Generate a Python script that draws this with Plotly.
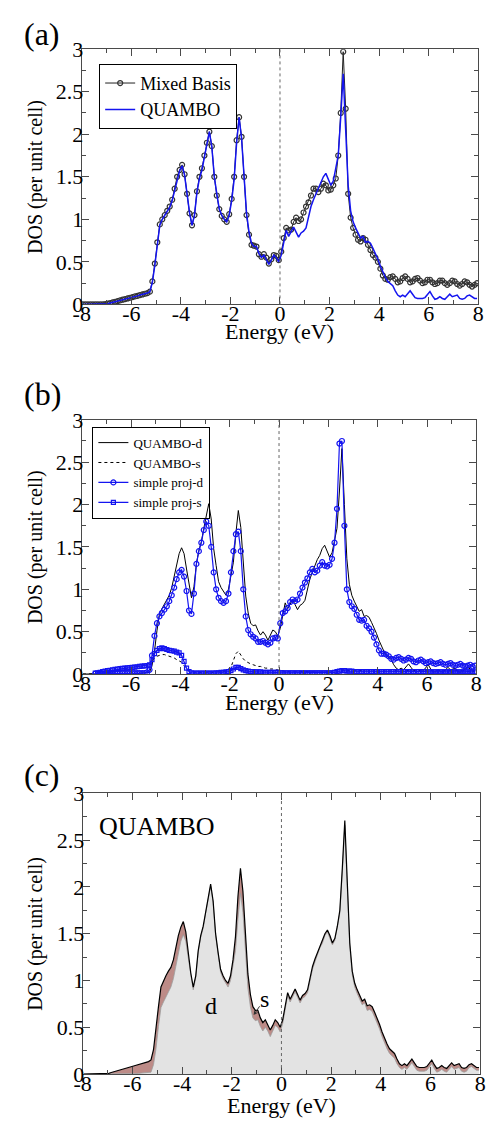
import numpy as np
import plotly.graph_objects as go

# Energy grid (eV), bin centres from -7.95 to 7.95
energy = np.round(np.arange(-7.95, 8.0, 0.1), 2)

# Total DOS from the mixed-basis calculation
mixed_basis = [
    0, 0, 0, 0, 0, 0, 0, 0, 0, 0.005,
    0.008, 0.016, 0.023, 0.031, 0.039, 0.047, 0.055, 0.062, 0.07, 0.078,
    0.086, 0.094, 0.10, 0.11, 0.117, 0.125, 0.133, 0.15, 0.27, 0.48,
    0.73, 0.94, 1.0, 1.05, 1.1, 1.15, 1.23, 1.36, 1.5, 1.58,
    1.64, 1.53, 1.3, 1.07, 0.93, 1.05, 1.33, 1.5, 1.6, 1.75,
    1.9, 2.03, 1.86, 1.5, 1.28, 1.12, 1.04, 1.0, 0.97, 1.06,
    1.24, 1.5, 1.93, 2.2, 1.97, 1.5, 1.05, 0.82, 0.7, 0.69,
    0.68, 0.59, 0.56, 0.59, 0.55, 0.48, 0.53, 0.58, 0.57, 0.52,
    0.62, 0.78, 0.9, 0.87, 0.88, 0.97, 1.02, 0.98, 1.0, 1.08,
    1.15, 1.2, 1.28, 1.36, 1.36, 1.32, 1.36, 1.42, 1.4, 1.34,
    1.35, 1.4, 1.48, 1.75, 2.25, 2.97, 2.3, 1.3, 1.02, 0.9,
    0.82, 0.76, 0.74, 0.78, 0.76, 0.7, 0.64, 0.58, 0.55, 0.5,
    0.42, 0.34, 0.3, 0.29, 0.32, 0.33, 0.3, 0.26, 0.27, 0.31,
    0.33, 0.3, 0.26, 0.27, 0.3, 0.31, 0.28, 0.25, 0.26, 0.29,
    0.29, 0.26, 0.24, 0.25, 0.28, 0.28, 0.25, 0.23, 0.25, 0.28,
    0.27, 0.24, 0.22, 0.24, 0.27, 0.26, 0.23, 0.21, 0.23, 0.25,
]

# Total QUAMBO DOS
quambo_total = [
    0, 0, 0, 0, 0, 0, 0, 0, 0, 0.005,
    0.008, 0.016, 0.023, 0.031, 0.039, 0.047, 0.055, 0.062, 0.07, 0.078,
    0.086, 0.094, 0.10, 0.11, 0.117, 0.125, 0.133, 0.15, 0.26, 0.46,
    0.72, 0.93, 1.0, 1.05, 1.1, 1.14, 1.22, 1.35, 1.48, 1.57,
    1.63, 1.52, 1.3, 1.08, 0.93, 1.05, 1.32, 1.48, 1.58, 1.74,
    1.88, 2.03, 1.85, 1.5, 1.3, 1.12, 1.05, 1.0, 0.97, 1.05,
    1.22, 1.47, 1.9, 2.2, 1.95, 1.5, 1.07, 0.85, 0.72, 0.68,
    0.68, 0.6, 0.55, 0.58, 0.53, 0.47, 0.52, 0.58, 0.55, 0.5,
    0.58, 0.75, 0.87, 0.8, 0.85, 0.91, 0.85, 0.79, 0.84, 0.86,
    0.9, 1.02, 1.15, 1.23, 1.3, 1.37, 1.42, 1.5, 1.54, 1.48,
    1.4, 1.45, 1.58, 1.75, 2.2, 2.71, 2.05, 1.4, 1.1, 0.97,
    0.9, 0.84, 0.78, 0.8, 0.73, 0.74, 0.72, 0.66, 0.6, 0.53,
    0.45, 0.38, 0.32, 0.27, 0.25, 0.22, 0.16, 0.11, 0.09, 0.11,
    0.09, 0.12, 0.16, 0.12, 0.08, 0.07, 0.07, 0.07, 0.08, 0.12,
    0.15, 0.1, 0.06, 0.07, 0.09, 0.07, 0.06, 0.09, 0.12, 0.09,
    0.1, 0.11, 0.07, 0.06, 0.07, 0.1, 0.11, 0.09, 0.07, 0.07,
]

# s-projected QUAMBO DOS
quambo_s = [
    0, 0, 0, 0, 0, 0, 0, 0, 0, 0.005,
    0.008, 0.016, 0.023, 0.031, 0.039, 0.047, 0.055, 0.062, 0.07, 0.078,
    0.085, 0.09, 0.095, 0.1, 0.105, 0.11, 0.12, 0.13, 0.16, 0.19,
    0.21, 0.22, 0.23, 0.23, 0.22, 0.21, 0.2, 0.19, 0.17, 0.15,
    0.14, 0.1, 0.06, 0.04, 0.03, 0.02, 0.02, 0.02, 0.02, 0.02,
    0.02, 0.02, 0.02, 0.02, 0.02, 0.03, 0.03, 0.03, 0.04, 0.05,
    0.08, 0.15, 0.24, 0.27, 0.22, 0.18, 0.15, 0.13, 0.12, 0.11,
    0.1, 0.09, 0.09, 0.08, 0.07, 0.07, 0.06, 0.06, 0.05, 0.05,
    0.04, 0.04, 0.03, 0.03, 0.03, 0.03, 0.03, 0.03, 0.03, 0.03,
    0.03, 0.03, 0.03, 0.03, 0.02, 0.02, 0.02, 0.02, 0.02, 0.02,
    0.02, 0.02, 0.02, 0.03, 0.04, 0.05, 0.05, 0.04, 0.04, 0.04,
    0.04, 0.04, 0.04, 0.04, 0.05, 0.05, 0.05, 0.05, 0.05, 0.05,
    0.05, 0.05, 0.05, 0.05, 0.05, 0.05, 0.05, 0.04, 0.04, 0.04,
    0.04, 0.04, 0.04, 0.04, 0.04, 0.04, 0.04, 0.04, 0.04, 0.04,
    0.04, 0.04, 0.04, 0.04, 0.04, 0.04, 0.04, 0.04, 0.04, 0.04,
    0.04, 0.04, 0.04, 0.04, 0.04, 0.03, 0.03, 0.03, 0.03, 0.03,
]

# Simple projection onto d and s orbitals
simple_proj_d = [
    None, None, None, None, None, 0.005, 0.005, 0.005, 0.005, 0.005,
    0.01, 0.01, 0.01, 0.01, 0.01, 0.01, 0.01, 0.01, 0.01, 0.01,
    0.01, 0.01, 0.01, 0.01, 0.01, 0.01, 0.02, 0.05, 0.22, 0.45,
    0.6, 0.68, 0.72, 0.76, 0.8, 0.86, 0.93, 1.02, 1.12, 1.2,
    1.23, 1.15, 0.98, 0.75, 0.71, 0.95, 1.3, 1.45, 1.55, 1.7,
    1.8, 1.75, 1.5, 1.2, 1.0, 0.9, 0.86, 0.84, 0.86, 0.95,
    1.2, 1.45, 1.65, 1.68, 1.45, 1.0, 0.68, 0.52, 0.47, 0.44,
    0.42, 0.38, 0.38, 0.39, 0.37, 0.35, 0.37, 0.42, 0.43, 0.42,
    0.6, 0.72, 0.74, 0.78, 0.85, 0.88, 0.86, 0.88, 0.95, 1.02,
    1.08, 1.13, 1.2, 1.24, 1.2, 1.22, 1.28, 1.32, 1.28, 1.27,
    1.29, 1.36, 1.55, 1.95, 2.72, 2.75, 1.75, 1.0, 0.85, 0.8,
    0.77, 0.7, 0.64, 0.63, 0.64, 0.57, 0.54, 0.5, 0.43, 0.35,
    0.28, 0.24, 0.24, 0.23, 0.21, 0.18, 0.17, 0.19, 0.2, 0.18,
    0.16, 0.17, 0.19, 0.18, 0.15, 0.14, 0.16, 0.17, 0.15, 0.13,
    0.14, 0.15, 0.13, 0.12, 0.13, 0.14, 0.12, 0.11, 0.12, 0.13,
    0.11, 0.1, 0.11, 0.12, 0.1, 0.09, 0.1, 0.11, 0.09, 0.1,
]

simple_proj_s = [
    None, None, None, None, None, 0.01, 0.015, 0.02, 0.03, 0.035,
    0.04, 0.045, 0.05, 0.055, 0.06, 0.063, 0.066, 0.07, 0.073, 0.076,
    0.08, 0.083, 0.086, 0.09, 0.093, 0.096, 0.1, 0.11, 0.17, 0.24,
    0.28, 0.3, 0.31, 0.3, 0.29, 0.28, 0.275, 0.27, 0.26, 0.25,
    0.22, 0.15, 0.07, 0.03, 0.015, 0.01, 0.01, 0.01, 0.01, 0.01,
    0.01, 0.01, 0.01, 0.01, 0.015, 0.015, 0.02, 0.02, 0.025, 0.03,
    0.04, 0.06, 0.08, 0.08, 0.065, 0.05, 0.04, 0.035, 0.03, 0.03,
    0.025, 0.025, 0.025, 0.02, 0.02, 0.02, 0.02, 0.02, 0.02, 0.02,
    0.015, 0.015, 0.015, 0.015, 0.015, 0.015, 0.015, 0.015, 0.015, 0.015,
    0.015, 0.015, 0.015, 0.015, 0.015, 0.015, 0.015, 0.015, 0.015, 0.015,
    0.015, 0.015, 0.02, 0.03, 0.035, 0.04, 0.04, 0.035, 0.035, 0.035,
    0.03, 0.03, 0.03, 0.03, 0.03, 0.03, 0.03, 0.03, 0.03, 0.03,
    0.03, 0.03, 0.03, 0.03, 0.03, 0.03, 0.03, 0.03, 0.03, 0.03,
    0.03, 0.03, 0.03, 0.03, 0.03, 0.03, 0.03, 0.03, 0.03, 0.03,
    0.025, 0.025, 0.025, 0.025, 0.025, 0.025, 0.025, 0.025, 0.025, 0.025,
    0.025, 0.025, 0.025, 0.025, 0.025, 0.025, 0.025, 0.025, 0.025, 0.025,
]

# d-projected QUAMBO DOS: total minus the s part
quambo_d = np.array(quambo_total) - np.array(quambo_s)

x_tick_vals = [-8, -6, -4, -2, 0, 2, 4, 6, 8]
x_tick_labels = ["-8", "-6", "-4", "-2", "0", "2", "4", "6", "8"]
x_minor_vals = [-7, -5, -3, -1, 1, 3, 5, 7]
y_tick_vals = [0, 0.5, 1, 1.5, 2, 2.5, 3]
y_tick_labels = ["0", "0.5", "1", "1.5", "2", "2.5", "3"]
y_minor_vals = [0.25, 0.75, 1.25, 1.75, 2.25, 2.75]

W, H = 493, 1133
FONT = "Liberation Serif"
FRAME = "#4a4a4a"
BLUE = "#1414f0"

# pixel boxes for the three panels: (left, right, top, bottom)
boxes = {
    "a": (75, 484, 38, 299),
    "b": (75, 482, 417, 677),
    "c": (76, 486, 799, 1086),
}


def xdom(b):
    return [b[0] / W, b[1] / W]


def ydom(b):
    return [1 - b[3] / H, 1 - b[2] / H]


fig = go.Figure()

# ---- panel (a) ----
fig.add_trace(go.Scatter(
    x=energy, y=mixed_basis, mode="lines+markers", name="Mixed Basis",
    line=dict(color="#222222", width=1),
    marker=dict(symbol="circle-open", size=5, color="#333333", line=dict(width=1.2)),
    xaxis="x", yaxis="y", legend="legend",
))
fig.add_trace(go.Scatter(
    x=energy, y=np.array(quambo_total), mode="lines", name="QUAMBO",
    line=dict(color=BLUE, width=1.5),
    xaxis="x", yaxis="y", legend="legend",
))

# ---- panel (b) ----
fig.add_trace(go.Scatter(
    x=energy, y=quambo_d, mode="lines", name="QUAMBO-d",
    line=dict(color="black", width=1),
    xaxis="x2", yaxis="y2", legend="legend2",
))
fig.add_trace(go.Scatter(
    x=energy, y=quambo_s, mode="lines", name="QUAMBO-s",
    line=dict(color="black", width=1, dash="dot"),
    xaxis="x2", yaxis="y2", legend="legend2",
))
fig.add_trace(go.Scatter(
    x=energy, y=simple_proj_d, mode="lines+markers", name="simple proj-d",
    line=dict(color=BLUE, width=1.2),
    marker=dict(symbol="circle-open", size=5, color=BLUE, line=dict(width=1.2)),
    xaxis="x2", yaxis="y2", legend="legend2",
))
fig.add_trace(go.Scatter(
    x=energy, y=simple_proj_s, mode="lines+markers", name="simple proj-s",
    line=dict(color=BLUE, width=1.2),
    marker=dict(symbol="square-open", size=4, color=BLUE, line=dict(width=1.2)),
    xaxis="x2", yaxis="y2", legend="legend2",
))

# ---- panel (c): stacked d (grey) + s (brown) ----
fig.add_trace(go.Scatter(
    x=energy, y=quambo_d, mode="lines", stackgroup="c",
    line=dict(color="#9a9a9a", width=0.8),
    fillcolor="#e3e3e3", showlegend=False,
    xaxis="x3", yaxis="y3",
))
fig.add_trace(go.Scatter(
    x=energy, y=quambo_s, mode="lines", stackgroup="c",
    line=dict(color="black", width=1.2),
    fillcolor="#bd8b87", showlegend=False,
    xaxis="x3", yaxis="y3",
))


def xaxis_cfg(b, anchor):
    return dict(
        domain=xdom(b), anchor=anchor, range=[-8, 8],
        tickmode="array", tickvals=x_tick_vals, ticktext=x_tick_labels,
        ticks="inside", ticklen=7, tickwidth=1, tickcolor=FRAME,
        minor=dict(tickmode="array", tickvals=x_minor_vals,
                   ticks="inside", ticklen=4, tickcolor=FRAME),
        showline=True, linecolor=FRAME, linewidth=1.2, mirror="ticks",
        showgrid=False, zeroline=False, ticklabelstandoff=-11,
        tickfont=dict(family=FONT, size=22, color="black"),
    )


def yaxis_cfg(b, anchor):
    return dict(
        domain=ydom(b), anchor=anchor, range=[0, 3],
        tickmode="array", tickvals=y_tick_vals, ticktext=y_tick_labels,
        ticks="inside", ticklen=7, tickwidth=1, tickcolor=FRAME,
        minor=dict(tickmode="array", tickvals=y_minor_vals,
                   ticks="inside", ticklen=4, tickcolor=FRAME),
        showline=True, linecolor=FRAME, linewidth=1.2, mirror="ticks",
        showgrid=False, zeroline=False, ticklabelstandoff=-7,
        tickfont=dict(family=FONT, size=22, color="black"),
    )


shapes = []
annotations = []
for key, xa, ya, gap in (("a", "x", "y", 28), ("b", "x2", "y2", 29), ("c", "x3", "y3", 32)):
    b = boxes[key]
    # Fermi level marker
    shapes.append(dict(
        type="line", xref=xa, yref=f"{ya} domain", x0=0, x1=0, y0=0, y1=1,
        line=dict(color="#666666", width=1, dash="dot"), layer="above",
    ))
    ymid = 1 - (b[2] + b[3]) / 2 / H
    annotations.append(dict(
        text="DOS (per unit cell)", textangle=-90, xref="paper", yref="paper",
        x=28 / W, y=ymid, showarrow=False, xanchor="center", yanchor="middle",
        font=dict(family=FONT, size=20, color="black"),
    ))
    annotations.append(dict(
        text="Energy (eV)", xref="paper", yref="paper",
        x=(b[0] + b[1]) / 2 / W, y=1 - (b[3] + gap) / H, showarrow=False,
        xanchor="center", yanchor="middle",
        font=dict(family=FONT, size=22, color="black"),
    ))

# panel letters
for label, ytop in (("(a)", 2), ("(b)", 370), ("(c)", 760)):
    annotations.append(dict(
        text=label, xref="paper", yref="paper", x=13 / W, y=1 - ytop / H,
        xanchor="left", yanchor="top", showarrow=False,
        font=dict(family=FONT, size=32, color="black"),
    ))

# labels inside panel (c)
annotations.append(dict(
    text="QUAMBO", xref="x3", yref="y3", x=-5.0, y=2.65, showarrow=False,
    font=dict(family=FONT, size=26, color="black"),
))
annotations.append(dict(
    text="d", xref="x3", yref="y3", x=-2.83, y=0.73, showarrow=False,
    font=dict(family=FONT, size=24, color="black"),
))
annotations.append(dict(
    text="s", xref="x3", yref="y3", x=-0.68, y=0.8, showarrow=False,
    font=dict(family=FONT, size=24, color="black"),
))
annotations.append(dict(
    text="", xref="x3", yref="y3", x=-1.12, y=0.63, showarrow=True,
    axref="x3", ayref="y3", ax=-0.84, ay=0.74,
    arrowhead=3, arrowsize=0.9, arrowwidth=1, arrowcolor="#333333",
))

fig.update_layout(
    width=W, height=H, margin=dict(l=0, r=0, t=0, b=0),
    paper_bgcolor="white", plot_bgcolor="white",
    font=dict(family=FONT, color="black"),
    xaxis=xaxis_cfg(boxes["a"], "y"),
    yaxis=yaxis_cfg(boxes["a"], "x"),
    xaxis2=xaxis_cfg(boxes["b"], "y2"),
    yaxis2=yaxis_cfg(boxes["b"], "x2"),
    xaxis3=xaxis_cfg(boxes["c"], "y3"),
    yaxis3=yaxis_cfg(boxes["c"], "x3"),
    legend=dict(
        x=93 / W, y=1 - 53 / H, xanchor="left", yanchor="top",
        bgcolor="rgba(255,255,255,0)", bordercolor="black", borderwidth=1,
        font=dict(family=FONT, size=18, color="black"),
        itemwidth=30, tracegroupgap=0, traceorder="normal",
    ),
    legend2=dict(
        x=86 / W, y=1 - 424 / H, xanchor="left", yanchor="top",
        bgcolor="rgba(255,255,255,0)", bordercolor="black", borderwidth=1,
        font=dict(family=FONT, size=13, color="black"),
        itemwidth=30, tracegroupgap=0, traceorder="normal",
    ),
    shapes=shapes,
    annotations=annotations,
)

fig.write_html("out.html")
